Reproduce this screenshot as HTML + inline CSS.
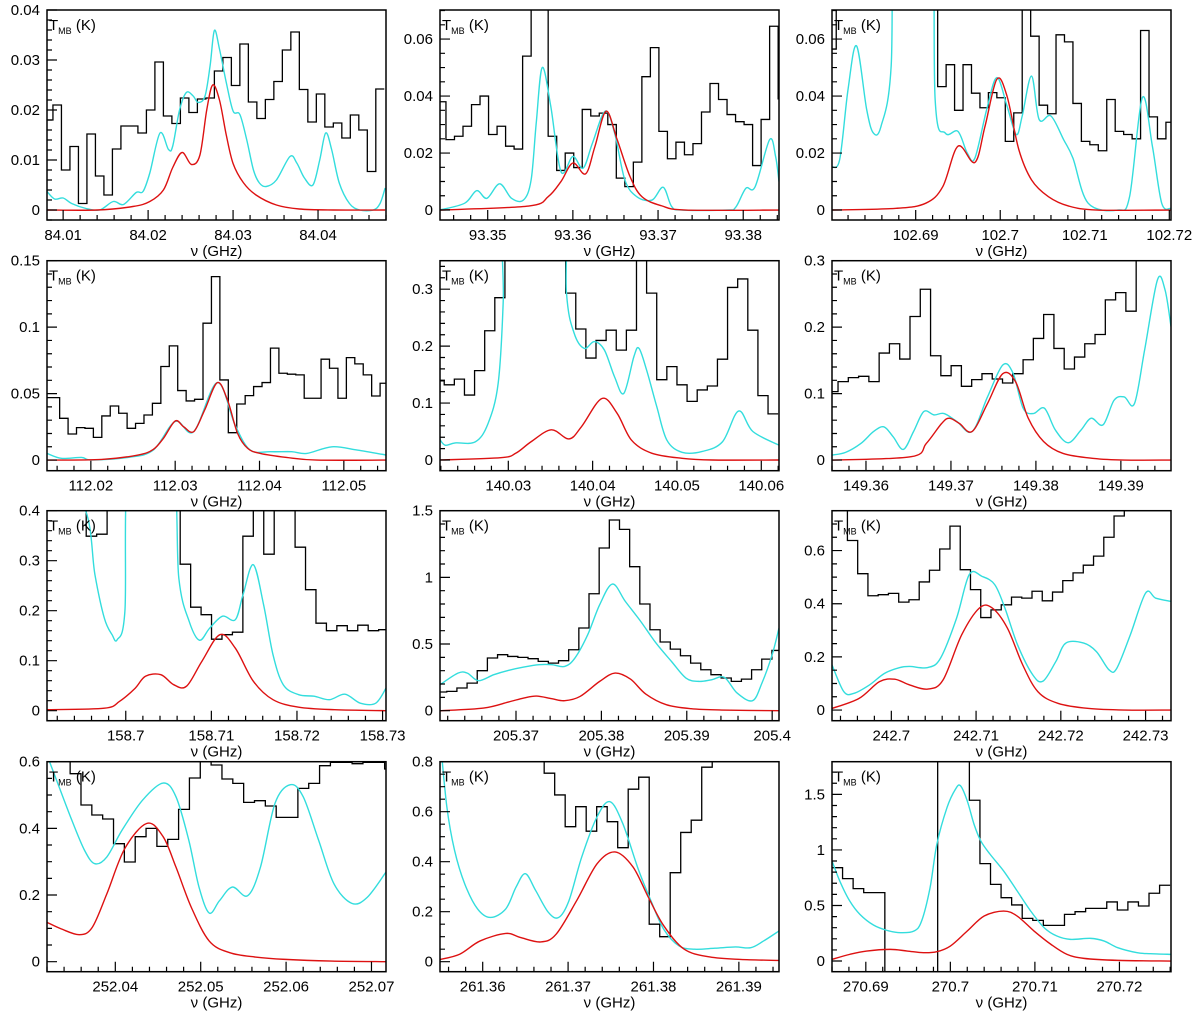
<!DOCTYPE html>
<html><head><meta charset="utf-8"><style>
html,body{margin:0;padding:0;background:#fff;}
svg{display:block;font-family:"Liberation Sans",sans-serif;}
</style></head><body>
<svg id="chart" width="1200" height="1013" viewBox="0 0 1200 1013" xmlns="http://www.w3.org/2000/svg"></svg>
<script>
// ---------- Panel 1 ----------
const p1HistStart=84.0078, p1HistWidth=0.001;
const p1Hist=[.018,.021,.008,.0127,.0013,.0152,.0068,.003,.0122,.0168,.0168,.0154,.020,.0296,.0188,.0173,.0224,.0195,.0222,.0224,.0278,.0305,.0249,.0332,.0216,.0183,.0221,.0257,.0320,.0356,.0241,.0176,.0232,.0166,.0174,.0144,.0190,.0160,.0077,.0242];
const p1CyanF=[84.0081,84.0090,84.0100,84.0110,84.0127,84.0143,84.0159,84.0171,84.0186,84.0194,84.0202,84.0214,84.0224,84.0229,84.0237,84.0245,84.0253,84.0259,84.0267,84.0273,84.0278,84.0284,84.0292,84.0300,84.0308,84.0316,84.0324,84.0331,84.0339,84.0351,84.0367,84.0375,84.0384,84.0394,84.0402,84.0409,84.0416,84.0425,84.0437,84.0449,84.0465,84.0473,84.0479];
const p1CyanT=[.0037,.0022,.0024,.0013,.0003,0,.0017,.0011,.0035,.0037,.0074,.0154,.0121,.0128,.020,.0235,.0228,.0215,.0228,.0289,.0359,.0322,.0255,.0198,.0191,.0141,.008,.0054,.0047,.006,.0107,.0094,.0064,.005,.010,.0154,.0121,.0054,.0013,0,0,.0013,.0044];
const p1RedF=[84.0081,84.0140,84.0182,84.0202,84.0218,84.0229,84.0240,84.0251,84.0261,84.0269,84.0276,84.0284,84.0292,84.0300,84.0312,84.0327,84.0351,84.0378,84.0418,84.0479];
const p1RedT=[0,0,.0007,.0017,.004,.0085,.0115,.0091,.011,.02,.025,.022,.015,.0093,.0055,.003,.001,.0002,0,0];
// ---------- Panel 2 ----------
const p2HistStart=93.3441, p2HistWidth=0.001;
const p2Hist=[.038,.0247,.0259,.0294,.037,.040,.0265,.0294,.0224,.0214,.054,.075,.075,.0259,.0139,.020,.0149,.0353,.033,.034,.030,.0112,.0082,.0168,.0468,.057,.0276,.018,.0238,.0194,.0233,.0344,.0444,.0388,.0335,.031,.030,.0156,.0318,.0645,.039];
const p2CyanF=[93.3444,93.3473,93.3487,93.3499,93.3514,93.3528,93.3542,93.3551,93.3557,93.3564,93.3574,93.3586,93.3600,93.3612,93.3623,93.3638,93.3649,93.3661,93.3675,93.3693,93.3706,93.3716,93.3728,93.3780,93.3791,93.3803,93.3814,93.3831,93.3838,93.3842];
const p2CyanT=[0,.0024,.0068,.0041,.0092,.0041,.0035,.0106,.0306,.05,.0365,.0135,.0188,.0147,.0235,.0347,.027,.0106,.0047,.0035,.008,.0012,0,0,.0009,.0076,.0082,.0247,.0188,.01];
const p2RedF=[93.3444,93.3548,93.3571,93.3586,93.3600,93.3615,93.3626,93.3639,93.3652,93.3667,93.3681,93.3704,93.3733,93.3842];
const p2RedT=[0,.0014,.0047,.01,.0165,.0127,.0224,.0347,.0247,.0118,.0047,.0015,0,0];
// ---------- Panel 3 ----------
const p3HistStart=102.6796, p3HistWidth=0.001;
const p3Hist=[.0565,.08,.08,.08,.08,.08,.08,.08,.08,.08,.08,.08,.08,.0433,.051,.035,.051,.041,.0359,.0412,.0394,.0241,.0341,.08,.061,.0368,.0338,.0615,.059,.0374,.0241,.0229,.0208,.0388,.0276,.0265,.025,.063,.0327,.025,.0308];
const p3CyanF=[102.6800,102.6810,102.6820,102.6830,102.6842,102.6850,102.6859,102.6871,102.6877,102.6917,102.6923,102.6935,102.6950,102.6961,102.6970,102.6984,102.6996,102.7008,102.7019,102.7026,102.7037,102.7046,102.7060,102.7075,102.7086,102.7104,102.7139,102.7153,102.7168,102.7180,102.7191,102.7202];
const p3CyanT=[.0153,.0176,.0424,.0576,.0353,.027,.0294,.0506,.12,.12,.0388,.027,.0276,.02,.0182,.0353,.0465,.0365,.0265,.033,.047,.0318,.033,.0247,.0182,.0024,0,.0047,.0394,.0224,.0024,.0006];
const p3RedF=[102.6800,102.6877,102.6912,102.6932,102.6950,102.6970,102.6982,102.6996,102.7008,102.7022,102.7037,102.7057,102.7081,102.7115,102.7202];
const p3RedT=[0,.0006,.0024,.0082,.0224,.0167,.0294,.0459,.04,.0212,.0106,.0047,.0014,0,0];
// ---------- Panel 4 ----------
const p4HistStart=112.0143, p4HistWidth=0.001;
const p4Hist=[.047,.047,.0314,.0196,.0244,.0239,.0171,.0332,.0407,.0352,.0239,.0276,.0339,.0427,.0704,.0859,.0523,.0445,.0457,.103,.138,.0603,.0206,.0422,.0485,.0553,.0583,.0842,.0653,.0646,.0641,.0465,.0465,.0759,.0691,.0465,.0771,.0724,.0641,.0482,.0578];
const p4CyanF=[112.0148,112.0165,112.0189,112.0201,112.0244,112.0274,112.0300,112.0322,112.0350,112.0371,112.0389,112.0413,112.0438,112.0456,112.0486,112.0516,112.0550];
const p4CyanT=[.005,.0013,.002,0,.002,.0075,.029,.0214,.0583,.0264,.0075,.0063,.0063,.005,.01,.0075,.0038];
const p4RedF=[112.0148,112.0213,112.0256,112.0274,112.0286,112.0300,112.0310,112.0322,112.0335,112.0350,112.0362,112.0374,112.0386,112.0401,112.0432,112.0468,112.0550];
const p4RedT=[0,.0005,.0038,.008,.0163,.0294,.0251,.0214,.0377,.0583,.0452,.0201,.0088,.005,.002,0,0];
// ---------- Panel 5 ----------
const p5HistStart=140.0212, p5HistWidth=0.0012;
const p5Hist=[.139,.132,.142,.114,.157,.227,.285,.36,.36,.36,.36,.36,.36,.293,.23,.179,.21,.228,.193,.228,.36,.293,.141,.164,.132,.103,.123,.13,.177,.303,.318,.228,.113,.081];
const p5CyanF=[140.0218,140.0225,140.0237,140.0261,140.0276,140.0288,140.0294,140.0297,140.0363,140.0369,140.0378,140.0390,140.0402,140.0414,140.0426,140.0437,140.0449,140.0455,140.0464,140.0476,140.0488,140.0506,140.0530,140.0554,140.0573,140.0590,140.0621];
const p5CyanT=[.038,.026,.030,.032,.064,.135,.28,.5,.5,.293,.223,.196,.208,.193,.146,.117,.182,.196,.158,.094,.035,.0135,.015,.032,.086,.05,.026];
const p5RedF=[140.0218,140.0291,140.0309,140.0327,140.0351,140.0372,140.0387,140.0411,140.0429,140.0446,140.0470,140.0506,140.0542,140.0621];
const p5RedT=[0,.004,.012,.032,.053,.037,.059,.108,.082,.035,.012,.003,0,0];
// ---------- Panel 6 ----------
const p6HistStart=149.3555, p6HistWidth=0.00121;
const p6Hist=[.103,.118,.124,.126,.118,.161,.175,.152,.216,.257,.157,.127,.142,.111,.121,.13,.122,.116,.13,.151,.183,.219,.168,.137,.155,.175,.189,.241,.252,.224,.32,.32,.32,.32];
const p6CyanF=[149.3560,149.3576,149.3594,149.3609,149.3621,149.3632,149.3644,149.3656,149.3668,149.3680,149.3692,149.3707,149.3725,149.3743,149.3761,149.3773,149.3785,149.3797,149.3810,149.3823,149.3838,149.3853,149.3865,149.3879,149.3892,149.3904,149.3916,149.3928,149.3943,149.3952,149.3959];
const p6CyanT=[.0075,.0116,.025,.043,.05,.035,.016,.043,.073,.068,.07,.058,.043,.095,.143,.131,.078,.07,.078,.045,.026,.045,.063,.053,.09,.095,.085,.166,.271,.256,.201];
const p6RedF=[149.3560,149.3653,149.3671,149.3689,149.3698,149.3710,149.3725,149.3743,149.3761,149.3776,149.3791,149.3809,149.3832,149.3868,149.3904,149.3959];
const p6RedT=[0,.005,.025,.055,.063,.055,.043,.085,.13,.118,.063,.028,.01,.0025,0,0];
// ---------- Panel 7 ----------
const p7HistStart=158.6905, p7HistWidth=0.00122;
const p7Hist=[.42,.42,.42,.42,.349,.353,.42,.42,.42,.42,.42,.42,.42,.293,.207,.192,.143,.152,.157,.349,.42,.313,.42,.42,.327,.242,.175,.16,.17,.16,.171,.16,.162];
const p7CyanF=[158.6908,158.6952,158.6964,158.6975,158.6984,158.6990,158.6999,158.7005,158.7053,158.7062,158.7074,158.7086,158.7098,158.7113,158.7128,158.7137,158.7149,158.7161,158.7172,158.7184,158.7202,158.7220,158.7238,158.7256,158.7274,158.7292,158.7304];
const p7CyanT=[.5,.405,.272,.185,.152,.142,.199,.5,.5,.265,.179,.141,.165,.189,.182,.232,.292,.212,.112,.052,.032,.029,.022,.033,.015,.015,.045];
const p7RedF=[158.6908,158.6975,158.6993,158.7011,158.7023,158.7041,158.7056,158.7071,158.7089,158.7110,158.7128,158.7149,158.7172,158.7202,158.7244,158.7304];
const p7RedT=[.002,.005,.019,.045,.069,.072,.052,.049,.099,.152,.125,.059,.022,.007,.002,0];
// ---------- Panel 8 ----------
const p8HistStart=205.3607, p8HistWidth=0.00119;
const p8Hist=[.14,.145,.17,.207,.3,.395,.42,.407,.4,.39,.37,.357,.375,.457,.62,.877,1.22,1.43,1.36,1.08,.8,.607,.515,.462,.412,.357,.307,.27,.245,.22,.237,.307,.387,.452];
const p8CyanF=[205.3611,205.3632,205.3643,205.3656,205.3674,205.3691,205.3709,205.3727,205.3742,205.3757,205.3769,205.3784,205.3798,205.3813,205.3828,205.3846,205.3864,205.3882,205.3899,205.3914,205.3929,205.3944,205.3959,205.3977,205.3988,205.4000,205.4008];
const p8CyanT=[.195,.282,.282,.225,.27,.302,.327,.345,.345,.332,.395,.57,.795,.95,.82,.67,.507,.37,.245,.22,.232,.25,.132,.075,.207,.42,.62];
const p8RedF=[205.3611,205.3662,205.3691,205.3709,205.3724,205.3742,205.3757,205.3775,205.3798,205.3816,205.3834,205.3852,205.3876,205.3905,205.3941,205.4008];
const p8RedT=[0,.02,.065,.095,.11,.09,.075,.107,.22,.282,.237,.125,.045,.015,.005,0];
// ---------- Panel 9 ----------
const p9HistStart=242.6924, p9HistWidth=0.00121;
const p9Hist=[.8,.8,.638,.513,.43,.434,.439,.406,.415,.482,.526,.606,.692,.528,.453,.348,.377,.396,.425,.421,.447,.411,.444,.487,.516,.545,.579,.65,.73,.8,.8,.8,.8,.8,.8];
const p9CyanF=[242.6930,242.6944,242.6956,242.6974,242.6992,242.7010,242.7022,242.7043,242.7058,242.7077,242.7092,242.7107,242.7122,242.7134,242.7149,242.7167,242.7179,242.7194,242.7206,242.7227,242.7242,242.7257,242.7266,242.7282,242.7300,242.7312,242.7330];
const p9CyanT=[.17,.069,.063,.094,.138,.16,.164,.16,.195,.346,.51,.503,.472,.384,.245,.132,.109,.182,.252,.252,.22,.151,.157,.283,.44,.421,.409];
const p9RedF=[242.6930,242.6962,242.6986,242.7004,242.7022,242.7043,242.7061,242.7083,242.7104,242.7119,242.7137,242.7155,242.7173,242.7197,242.7233,242.7276,242.7330];
const p9RedT=[.006,.044,.107,.116,.094,.079,.113,.283,.384,.384,.308,.17,.069,.025,.006,0,0];
// ---------- Panel 10 ----------
const p10HistStart=252.0309, p10HistWidth=0.00127;
const p10Hist=[.62,.62,.62,.564,.47,.44,.428,.354,.299,.375,.4,.346,.367,.457,.551,.62,.59,.548,.535,.478,.483,.467,.433,.433,.52,.535,.588,.598,.598,.594,.598,.598,.578,.578];
const p10CyanF=[252.0320,252.0331,252.0349,252.0364,252.0376,252.0390,252.0408,252.0432,252.0456,252.0471,252.0486,252.0498,252.0510,252.0522,252.0537,252.0555,252.0570,252.0587,252.0605,252.0620,252.0638,252.0656,252.0677,252.0695,252.0717];
const p10CyanT=[.62,.546,.425,.334,.294,.314,.395,.485,.536,.495,.365,.224,.146,.183,.224,.198,.284,.475,.531,.495,.365,.234,.175,.193,.269];
const p10RedF=[252.0320,252.0337,252.0358,252.0373,252.0390,252.0411,252.0437,252.0456,252.0471,252.0489,252.0510,252.0534,252.0564,252.0599,252.0653,252.0717];
const p10RedT=[.118,.098,.081,.103,.203,.339,.415,.375,.284,.163,.062,.027,.014,.007,.002,0];
// ---------- Panel 11 ----------
const p11HistStart=261.3549, p11HistWidth=0.00123;
const p11Hist=[.85,.85,.85,.85,.85,.85,.85,.85,.85,.85,.754,.667,.54,.62,.522,.62,.56,.456,.69,.738,.15,.1,.356,.517,.566,.778,.85,.85,.85,.85,.85,.85,.85];
const p11CyanF=[261.3550,261.3558,261.3567,261.3579,261.3594,261.3609,261.3627,261.3639,261.3650,261.3662,261.3677,261.3689,261.3701,261.3716,261.3734,261.3749,261.3764,261.3782,261.3797,261.3812,261.3830,261.3848,261.3872,261.3896,261.3914,261.3929,261.3947];
const p11CyanT=[.9,.62,.446,.311,.211,.177,.211,.298,.352,.285,.197,.177,.244,.419,.58,.64,.553,.372,.244,.13,.063,.05,.054,.059,.056,.083,.123];
const p11RedF=[261.3550,261.3573,261.3597,261.3627,261.3644,261.3668,261.3686,261.3710,261.3734,261.3755,261.3776,261.3794,261.3812,261.3836,261.3866,261.3902,261.3947];
const p11RedT=[.009,.03,.083,.113,.097,.079,.11,.244,.392,.439,.379,.258,.144,.05,.019,.009,.005];
// ---------- Panel 12 ----------
const p12HistStart=270.686, p12HistWidth=0.00125;
const p12Hist=[.84,.742,.652,.616,.616,-.2,-.2,-.2,-.2,-.2,2,2,2,1.447,.877,.69,.57,.505,.384,.366,.321,.321,.42,.444,.474,.474,.532,.459,.532,.495,.61,.682];
const p12CyanF=[270.6860,270.6870,270.6881,270.6893,270.6909,270.6925,270.6941,270.6957,270.6966,270.6976,270.6984,270.6996,270.7006,270.7012,270.7020,270.7028,270.7036,270.7047,270.7063,270.7079,270.7095,270.7111,270.7126,270.7142,270.7166,270.7182,270.7198,270.7221,270.7237,270.7261];
const p12CyanT=[.9,.706,.54,.42,.324,.276,.255,.27,.36,.66,1.05,1.38,1.546,1.577,1.441,1.231,1.081,.961,.811,.631,.45,.3,.225,.195,.204,.18,.12,.075,.066,.06];
const p12RedF=[270.6860,270.6881,270.6901,270.6929,270.6949,270.6968,270.6984,270.7000,270.7020,270.7040,270.7063,270.7079,270.7099,270.7119,270.7138,270.7158,270.7198,270.7261];
const p12RedT=[.015,.06,.09,.105,.09,.075,.084,.135,.27,.405,.45,.405,.27,.15,.06,.024,.006,0];

const panels=[
 {col:0,row:0,xmin:84.0081,xmax:84.0480,ymin:-0.002,ymax:0.04,yMaj:0.01,yMin:0.002,hs:p1HistStart,hw:p1HistWidth,h:p1Hist,cf:p1CyanF,ct:p1CyanT,rf:p1RedF,rt:p1RedT},
 {col:1,row:0,xmin:93.3444,xmax:93.3842,ymin:-0.0035,ymax:0.0702,yMaj:0.02,yMin:0.005,hs:p2HistStart,hw:p2HistWidth,h:p2Hist,cf:p2CyanF,ct:p2CyanT,rf:p2RedF,rt:p2RedT},
 {col:2,row:0,xmin:102.6801,xmax:102.7202,ymin:-0.0035,ymax:0.0702,yMaj:0.02,yMin:0.005,hs:p3HistStart,hw:p3HistWidth,h:p3Hist,cf:p3CyanF,ct:p3CyanT,rf:p3RedF,rt:p3RedT},
 {col:0,row:1,xmin:112.0148,xmax:112.0550,ymin:-0.008,ymax:0.15,yMaj:0.05,yMin:0.01,hs:p4HistStart,hw:p4HistWidth,h:p4Hist,cf:p4CyanF,ct:p4CyanT,rf:p4RedF,rt:p4RedT},
 {col:1,row:1,xmin:140.0219,xmax:140.0621,ymin:-0.0188,ymax:0.35,yMaj:0.1,yMin:0.02,hs:p5HistStart,hw:p5HistWidth,h:p5Hist,cf:p5CyanF,ct:p5CyanT,rf:p5RedF,rt:p5RedT},
 {col:2,row:1,xmin:149.356,xmax:149.3959,ymin:-0.016,ymax:0.3,yMaj:0.1,yMin:0.02,hs:p6HistStart,hw:p6HistWidth,h:p6Hist,cf:p6CyanF,ct:p6CyanT,rf:p6RedF,rt:p6RedT},
 {col:0,row:2,xmin:158.6908,xmax:158.7304,ymin:-0.02,ymax:0.4,yMaj:0.1,yMin:0.02,hs:p7HistStart,hw:p7HistWidth,h:p7Hist,cf:p7CyanF,ct:p7CyanT,rf:p7RedF,rt:p7RedT},
 {col:1,row:2,xmin:205.3611,xmax:205.4008,ymin:-0.075,ymax:1.5,yMaj:0.5,yMin:0.1,hs:p8HistStart,hw:p8HistWidth,h:p8Hist,cf:p8CyanF,ct:p8CyanT,rf:p8RedF,rt:p8RedT},
 {col:2,row:2,xmin:242.693,xmax:242.733,ymin:-0.04,ymax:0.75,yMaj:0.2,yMin:0.05,hs:p9HistStart,hw:p9HistWidth,h:p9Hist,cf:p9CyanF,ct:p9CyanT,rf:p9RedF,rt:p9RedT},
 {col:0,row:3,xmin:252.0320,xmax:252.0717,ymin:-0.03,ymax:0.6,yMaj:0.2,yMin:0.05,hs:p10HistStart,hw:p10HistWidth,h:p10Hist,cf:p10CyanF,ct:p10CyanT,rf:p10RedF,rt:p10RedT},
 {col:1,row:3,xmin:261.355,xmax:261.3947,ymin:-0.04,ymax:0.8,yMaj:0.2,yMin:0.05,hs:p11HistStart,hw:p11HistWidth,h:p11Hist,cf:p11CyanF,ct:p11CyanT,rf:p11RedF,rt:p11RedT},
 {col:2,row:3,xmin:270.686,xmax:270.7261,ymin:-0.096,ymax:1.794,yMaj:0.5,yMin:0.1,hs:p12HistStart,hw:p12HistWidth,h:p12Hist,cf:p12CyanF,ct:p12CyanT,rf:p12RedF,rt:p12RedT}
];
const colX=[47,440,832], rowY=[10,260.7,510.7,761.7], PW=339, PH=210;
const NS="http://www.w3.org/2000/svg";
const svg=document.getElementById('chart');
function mk(tag,attrs,parent){const e=document.createElementNS(NS,tag);for(const k in attrs)e.setAttribute(k,attrs[k]);(parent||svg).appendChild(e);return e;}
function spline(pts){
 if(pts.length<2)return '';
 let d='M'+pts[0][0].toFixed(2)+','+pts[0][1].toFixed(2);
 for(let i=0;i<pts.length-1;i++){
  const p0=pts[i-1]||pts[i],p1=pts[i],p2=pts[i+1],p3=pts[i+2]||p2;
  const c1x=p1[0]+(p2[0]-p0[0])/6,c1y=p1[1]+(p2[1]-p0[1])/6;
  const c2x=p2[0]-(p3[0]-p1[0])/6,c2y=p2[1]-(p3[1]-p1[1])/6;
  d+=' C'+c1x.toFixed(2)+','+c1y.toFixed(2)+' '+c2x.toFixed(2)+','+c2y.toFixed(2)+' '+p2[0].toFixed(2)+','+p2[1].toFixed(2);
 }
 return d;
}
function fmt(v,d){return String(parseFloat(v.toFixed(d)));}
panels.forEach((p,i)=>{
 const L=colX[p.col],T=rowY[p.row],R=L+PW,B=T+PH;
 const xs=f=>L+(f-p.xmin)/(p.xmax-p.xmin)*PW;
 const ys=v=>B-(v-p.ymin)/(p.ymax-p.ymin)*PH;
 const g=mk('g',{});
 
 
 const cp=mk('clipPath',{id:'clip'+i},g);
 mk('rect',{x:L,y:T,width:PW,height:PH},cp);
 const data=mk('g',{'clip-path':'url(#clip'+i+')'},g);
 let d='';
 for(let k=0;k<p.h.length;k++){
  const x0=xs(p.hs+k*p.hw),x1=xs(p.hs+(k+1)*p.hw),y=ys(p.h[k]);
  d+=(k===0?'M':'L')+x0.toFixed(2)+','+y.toFixed(2)+' L'+x1.toFixed(2)+','+y.toFixed(2)+' ';
 }
 const hist=mk('path',{d:d,fill:'none',stroke:'#000','stroke-width':1.3},data);
 
 
 const cyan=mk('path',{d:spline(p.cf.map((f,k)=>[xs(f),ys(p.ct[k])])),fill:'none',stroke:'#33dddd','stroke-width':1.4},data);
 
 
 const red=mk('path',{d:spline(p.rf.map((f,k)=>[xs(f),ys(p.rt[k])])),fill:'none',stroke:'#dd1111','stroke-width':1.4},data);
 
 
 const fr=mk('rect',{x:L,y:T,width:PW,height:PH,fill:'none',stroke:'#000','stroke-width':1.5},g);
 
 
 let td='';
 const k0=Math.ceil(p.xmin/0.002-1e-6),k1=Math.floor(p.xmax/0.002+1e-6);
 for(let k=k0;k<=k1;k++){
  const v=k*0.002,x=xs(v),maj=(k%5===0);
  td+='M'+x.toFixed(2)+','+B+' V'+(B-(maj?10:5))+' ';
  if(maj){
   const t=mk('text',{x:x,y:B+20,'text-anchor':'middle','font-size':15,fill:'#000'},g);
   t.textContent=fmt(v,3);
   
   
  }
 }
 const j0=Math.ceil(p.ymin/p.yMin-1e-6),j1=Math.floor(p.ymax/p.yMin+1e-6);
 const ratio=Math.round(p.yMaj/p.yMin);
 for(let j=j0;j<=j1;j++){
  const v=j*p.yMin,y=ys(v),maj=(j%ratio===0);
  td+='M'+L+','+y.toFixed(2)+' H'+(L+(maj?10:5))+' ';
  if(maj){
   const t=mk('text',{x:L-7,y:y+5,'text-anchor':'end','font-size':15,fill:'#000'},g);
   t.textContent=fmt(v,3);
   
   
  }
 }
 mk('path',{d:td,stroke:'#000','stroke-width':1.2,fill:'none'},g);
 const xt=mk('text',{x:L+PW/2,y:B+36,'text-anchor':'middle','font-size':15,fill:'#000'},g);
 xt.textContent='\u03BD (GHz)';
 
 
 const yt=mk('text',{x:L+2,y:T+20,'font-size':15,fill:'#000'},g);
 
 
 const s1=mk('tspan',{},yt);s1.textContent='T';
 const s2=mk('tspan',{dy:4,'font-size':9},yt);s2.textContent='MB';
 const s3=mk('tspan',{dy:-4},yt);s3.textContent=' (K)';
});
</script>
</body></html>
